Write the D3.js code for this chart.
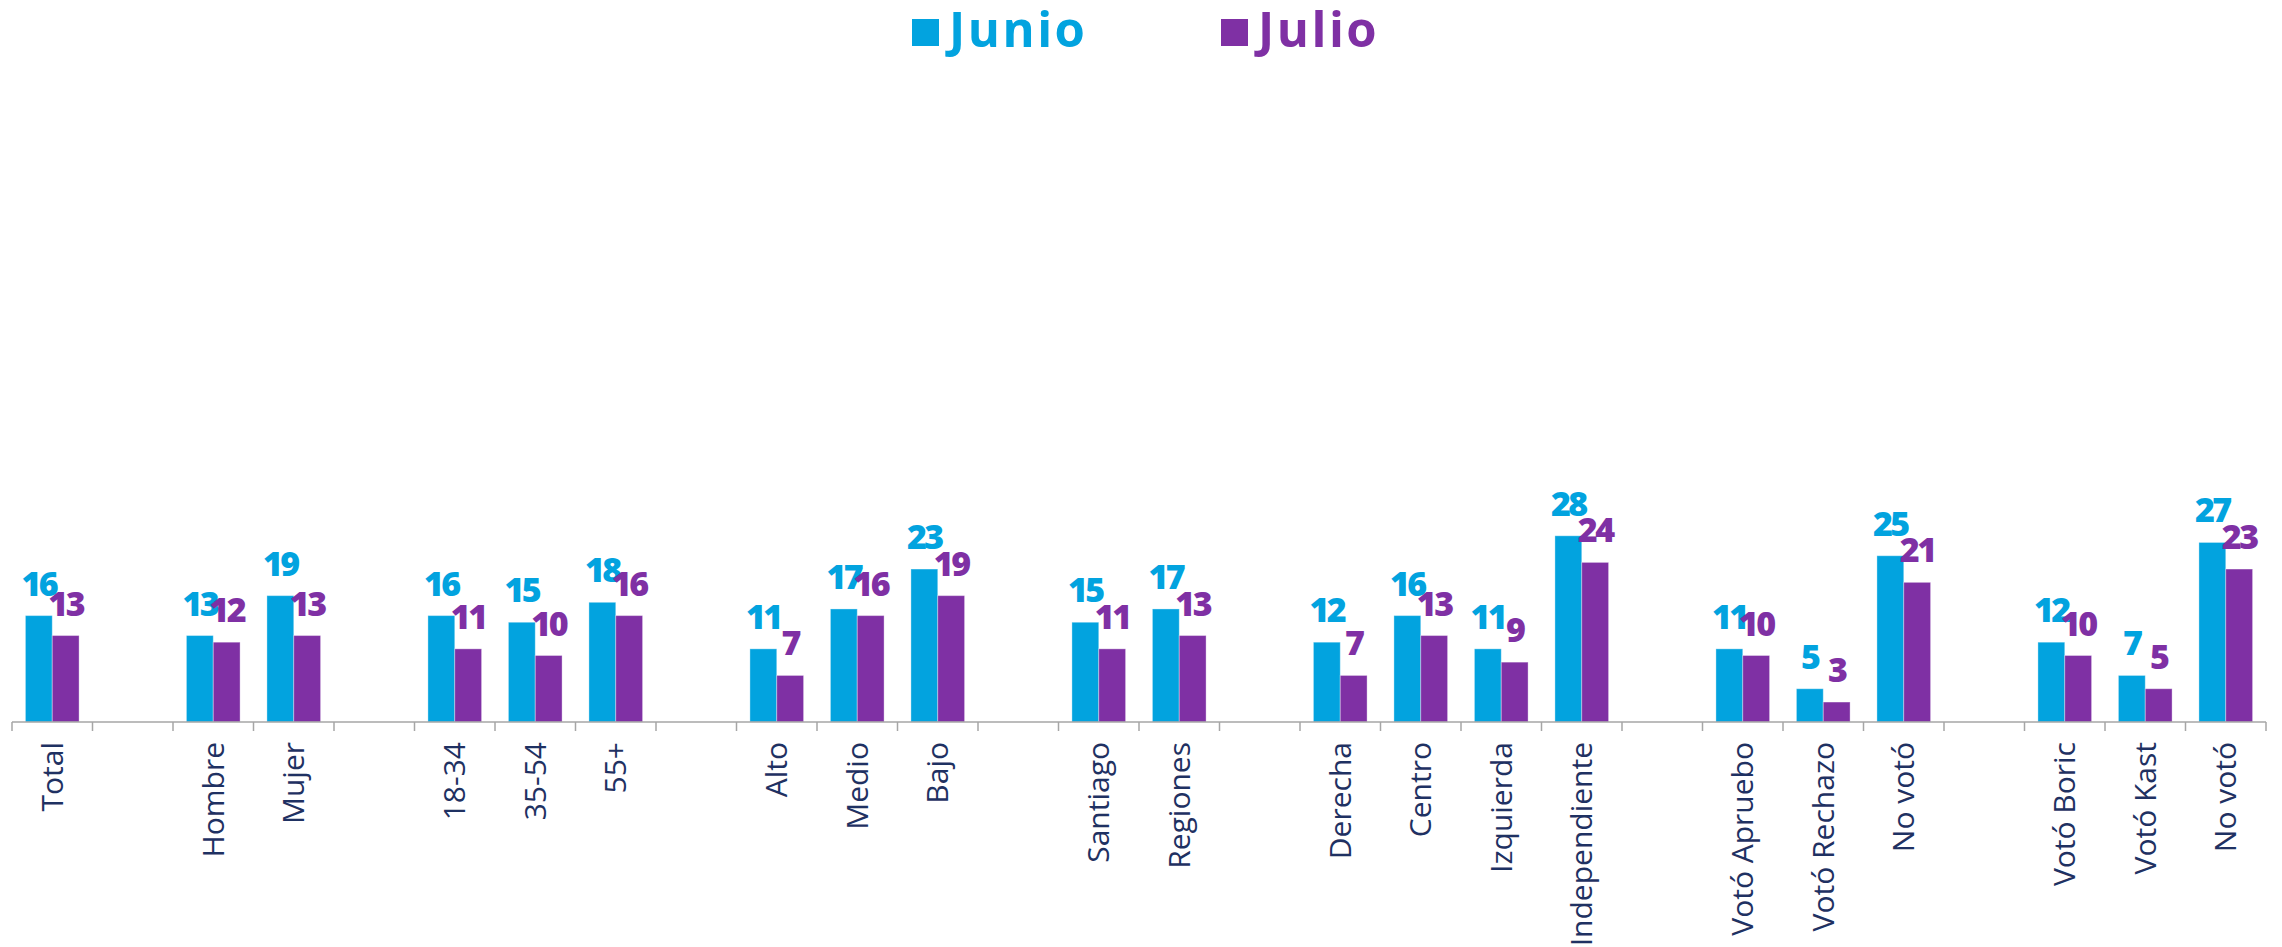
<!DOCTYPE html>
<html>
<head>
<meta charset="utf-8">
<script src="https://cdn.jsdelivr.net/npm/d3@7/dist/d3.min.js"></script>
<style>
  html, body { margin: 0; padding: 0; background: #fff; }
  #chart text { font-family: 'Open Sans', sans-serif; }
  .legend text { font-weight: 700; font-size: 49px; letter-spacing: 2.5px; }
  .value { font-weight: 800; font-size: 34px; letter-spacing: -2.5px; }
  .cat text { font-size: 30px; fill: #1f3162; }
  .axis-line { stroke: #a6a6a6; stroke-width: 1.5; }
</style>
</head>
<body>
<div id="chart"></div>
<script>

// empty strings are the spacer columns between groups
const categories = [
  'Total', '',
  'Hombre', 'Mujer', '',
  '18-34', '35-54', '55+', '',
  'Alto', 'Medio', 'Bajo', '',
  'Santiago', 'Regiones', '',
  'Derecha', 'Centro', 'Izquierda', 'Independiente', '',
  'Votó Apruebo', 'Votó Rechazo', 'No votó', '',
  'Votó Boric', 'Votó Kast', 'No votó'
];

const junio = [
  16, null,
  13, 19, null,
  16, 15, 18, null,
  11, 17, 23, null,
  15, 17, null,
  12, 16, 11, 28, null,
  11, 5, 25, null,
  12, 7, 27
];

const julio = [
  13, null,
  12, 13, null,
  11, 10, 16, null,
  7, 16, 19, null,
  11, 13, null,
  7, 13, 9, 24, null,
  10, 3, 21, null,
  10, 5, 23
];

const seriesNames = ['Junio', 'Julio'];
const seriesColors = ['#02a3df', '#7f30a4'];

const SVG_W = 2282,
      SVG_H = 947;

const SVG_MARGIN = {
  top: 57,
  right: 16,
  bottom: 225,
  left: 12
};

const rows = categories.map((name, i) => ({
  index: i,
  name: name,
  values: [junio[i], julio[i]]
}));

const x0 = d3.scaleBand()
  .domain(d3.range(categories.length))
  .range([SVG_MARGIN.left, SVG_W - SVG_MARGIN.right])
  .padding(0);

const x1 = d3.scaleBand()
  .domain(d3.range(seriesNames.length))
  .range([0, x0.bandwidth()])
  .paddingInner(0)
  .paddingOuter(0.5);

const y = d3.scaleLinear()
  .domain([0, 100])
  .range([SVG_H - SVG_MARGIN.bottom, SVG_MARGIN.top]);

const svg = d3.select('#chart').append('svg')
  .attr('width', SVG_W)
  .attr('height', SVG_H);

// bars + value labels
const group = svg.selectAll('.group')
  .data(rows.filter((d) => d.name !== ''))
  .enter().append('g')
    .attr('class', 'group')
    .attr('transform', (d) => `translate(${x0(d.index)}, 0)`);

group.selectAll('rect')
  .data((d) => d.values.map((v, s) => ({ v, s })))
  .enter().append('rect')
    .attr('x', (d) => x1(d.s))
    .attr('y', (d) => y(d.v))
    .attr('width', x1.bandwidth())
    .attr('height', (d) => y(0) - y(d.v))
    .attr('fill', (d) => seriesColors[d.s])
    .attr('stroke', '#fff')
    .attr('stroke-opacity', 0.35)
    .attr('stroke-width', 1);

group.selectAll('text.value')
  .data((d) => d.values.map((v, s) => ({ v, s })))
  .enter().append('text')
    .attr('class', 'value')
    .attr('x', (d) => x1(d.s) + x1.bandwidth() / 2)
    .attr('y', (d) => y(d.v) - 20)
    .attr('text-anchor', 'middle')
    .attr('fill', (d) => seriesColors[d.s])
    .text((d) => d.v);

// category axis: labels at band centres, ticks on the band edges
const axis = svg.append('g')
  .attr('class', 'cat')
  .attr('transform', `translate(0, ${y(0)})`)
  .call(d3.axisBottom(x0).tickSize(0).tickFormat((i) => categories[i]));

axis.select('.domain').remove();

axis.selectAll('.tick text')
  .attr('transform', 'rotate(-90)')
  .attr('x', -20)
  .attr('y', 0)
  .attr('dy', '0.35em')
  .attr('text-anchor', 'end');

axis.append('line')
  .attr('class', 'axis-line')
  .attr('x1', x0.range()[0])
  .attr('x2', x0.range()[1])
  .attr('y1', 0)
  .attr('y2', 0);

axis.selectAll('.edge')
  .data(d3.range(categories.length + 1))
  .enter().append('line')
    .attr('class', 'axis-line edge')
    .attr('x1', (i) => x0.range()[0] + i * x0.step())
    .attr('x2', (i) => x0.range()[0] + i * x0.step())
    .attr('y1', 0)
    .attr('y2', 9);

// legend
const legend = svg.append('g')
  .attr('class', 'legend');

const item = legend.selectAll('g')
  .data(seriesNames)
  .enter().append('g')
    .attr('transform', (d, i) => `translate(${912 + i * 309}, 0)`);

item.append('rect')
  .attr('x', 0)
  .attr('y', 19)
  .attr('width', 27)
  .attr('height', 27)
  .attr('fill', (d, i) => seriesColors[i]);

item.append('text')
  .attr('x', 37)
  .attr('y', 47)
  .attr('fill', (d, i) => seriesColors[i])
  .text((d) => d);

</script>
</body>
</html>
